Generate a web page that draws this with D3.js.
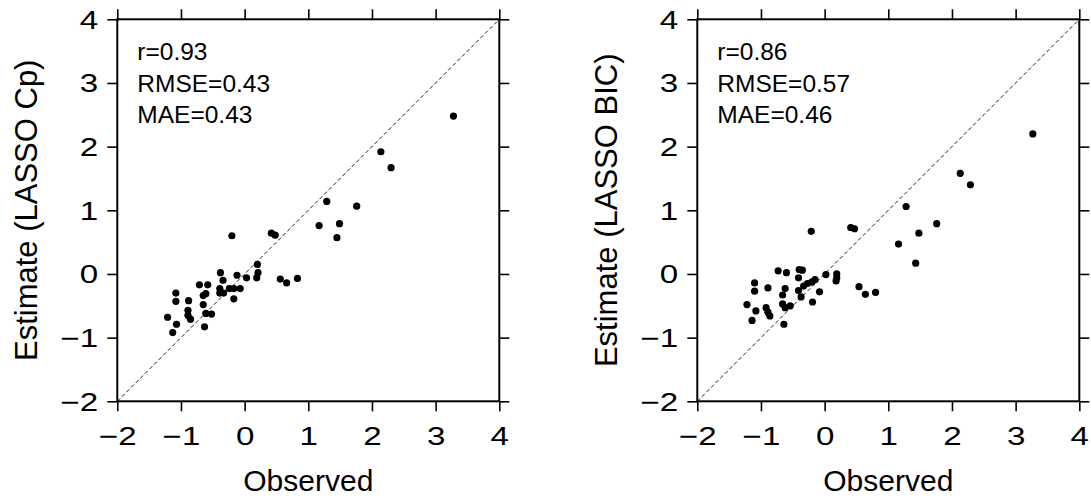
<!DOCTYPE html>
<html>
<head>
<meta charset="utf-8">
<script src="https://cdn.jsdelivr.net/npm/d3@7"></script>
<style>
  body { margin: 0; background: #fff; }
  text { font-family: "Liberation Sans", Arial, sans-serif; fill: #000; }
</style>
</head>
<body>
<div id="canvas"></div>
<script>
// observed vs estimated values, LASSO Cp
const cpObs = [3.28, 2.14, 2.30, 1.29, 1.76, 1.17, 1.49, 1.45,
  -0.20, 0.42, 0.48, 0.20, 0.21, 0.19, 0.56, 0.66, 0.83,
  0.03, -0.12, -0.38, -0.34, -0.39, -0.24, -0.17, -0.07, -0.39, -0.33, -0.17,
  -0.71, -0.58, -0.61, -0.65, -0.65, -0.61, -0.52, -0.63,
  -1.08, -1.08, -0.88, -0.89, -0.89, -0.85, -1.21, -1.07, -1.13];
const cpEst = [2.48, 1.92, 1.67, 1.14, 1.065, 0.76, 0.79, 0.57,
  0.60, 0.64, 0.61, 0.15, 0.02, -0.06, -0.08, -0.14, -0.07,
  -0.06, -0.02, 0.02, -0.10, -0.23, -0.23, -0.23, -0.23, -0.30, -0.30, -0.39,
  -0.17, -0.17, -0.31, -0.34, -0.48, -0.62, -0.63, -0.83,
  -0.30, -0.43, -0.42, -0.57, -0.65, -0.71, -0.68, -0.79, -0.92];

// LASSO BIC
const bicObs = [3.27, 2.13, 2.29, 1.28, 1.76, 1.16, 1.48, 1.43,
  -0.21, 0.41, 0.47, 0.19, 0.19, 0.18, 0.54, 0.64, 0.80,
  0.02, -0.40, -0.35, -0.41, -0.15, -0.20, -0.27, -0.33, -0.41, -0.37, -0.08, -0.19,
  -0.73, -0.60, -0.62, -0.66, -0.66, -0.62, -0.54, -0.64,
  -1.10, -1.10, -0.89, -0.92, -0.89, -0.86, -1.22, -1.08, -1.14];
const bicEst = [2.20, 1.58, 1.40, 1.06, 0.79, 0.47, 0.64, 0.17,
  0.67, 0.73, 0.71, 0.00, -0.06, -0.11, -0.20, -0.32, -0.29,
  -0.01, 0.07, 0.06, -0.06, -0.09, -0.125, -0.15, -0.19, -0.26, -0.36, -0.28, -0.44,
  0.05, 0.02, -0.23, -0.33, -0.47, -0.53, -0.50, -0.79,
  -0.14, -0.27, -0.22, -0.53, -0.60, -0.66, -0.48, -0.58, -0.73];

const tickValues = [-2, -1, 0, 1, 2, 3, 4];
const panels = [
  {obs: cpObs, est: cpEst, ylab: "Estimate (LASSO Cp)", stats: ["r=0.93", "RMSE=0.43", "MAE=0.43"]},
  {obs: bicObs, est: bicEst, ylab: "Estimate (LASSO BIC)", stats: ["r=0.86", "RMSE=0.57", "MAE=0.46"]}
];

const width = 1091, height = 500;
const svg = d3.select("#canvas").append("svg")
  .attr("width", width).attr("height", height);

const size = 382;
const stretch = 1.3;

panels.forEach((p, i) => {
  const left = 117.3 + i * 580, top = 19.3;
  const g = svg.append("g").attr("transform", `translate(${left},${top})`);

  const x = d3.scaleLinear().domain([-2, 4]).range([0, size]);
  const y = d3.scaleLinear().domain([-2, 4]).range([size, 0]);

  // diagonal 1:1 line
  g.append("line")
    .attr("x1", x(-2)).attr("y1", y(-2))
    .attr("x2", x(4)).attr("y2", y(4))
    .attr("stroke", "#222").attr("stroke-width", 1)
    .attr("stroke-dasharray", "4,2.5");

  const pts = p.obs.map((v, k) => ({o: v, e: p.est[k]}));
  g.selectAll("circle").data(pts).enter().append("circle")
    .attr("cx", d => x(d.o))
    .attr("cy", d => y(d.e))
    .attr("r", 3.6)
    .attr("fill", "#000");

  const fmt = d3.format("d");
  const bottom = g.append("g").attr("transform", `translate(0,${size})`)
    .call(d3.axisBottom(x).tickValues(tickValues).tickSize(10).tickFormat(fmt));
  const leftAx = g.append("g")
    .call(d3.axisLeft(y).tickValues(tickValues).tickSize(10).tickFormat(fmt));
  g.append("g")
    .call(d3.axisTop(x).tickValues(tickValues).tickSize(10).tickFormat(""));
  g.append("g").attr("transform", `translate(${size},0)`)
    .call(d3.axisRight(y).tickValues(tickValues).tickSize(10).tickFormat(""));

  g.selectAll(".domain").remove();
  g.selectAll(".tick line").attr("stroke", "#000").attr("stroke-width", 1.6);

  bottom.selectAll("text")
    .attr("y", 44).attr("dy", 0)
    .attr("font-size", 25.5)
    .attr("font-family", "Liberation Sans, Arial, sans-serif")
    .attr("transform", `scale(${stretch},1)`);
  leftAx.selectAll("text")
    .attr("x", -19 / stretch).attr("dy", "0.35em")
    .attr("font-size", 25.5)
    .attr("font-family", "Liberation Sans, Arial, sans-serif")
    .attr("transform", `scale(${stretch},1)`);

  // frame
  g.append("rect")
    .attr("width", size).attr("height", size)
    .attr("fill", "none").attr("stroke", "#000").attr("stroke-width", 2);

  // stats
  p.stats.forEach((s, k) => {
    g.append("text")
      .attr("x", 20).attr("y", 41.2 + k * 31.5)
      .attr("font-size", 24.5)
      .text(s);
  });

  // axis titles
  svg.append("text")
    .attr("x", left + size / 2).attr("y", 491)
    .attr("text-anchor", "middle").attr("font-size", 30)
    .text("Observed");
  svg.append("text")
    .attr("transform", `translate(${37 + i * 580},${top + size / 2}) rotate(-90)`)
    .attr("text-anchor", "middle").attr("font-size", 31)
    .text(p.ylab);
});
</script>
</body>
</html>
